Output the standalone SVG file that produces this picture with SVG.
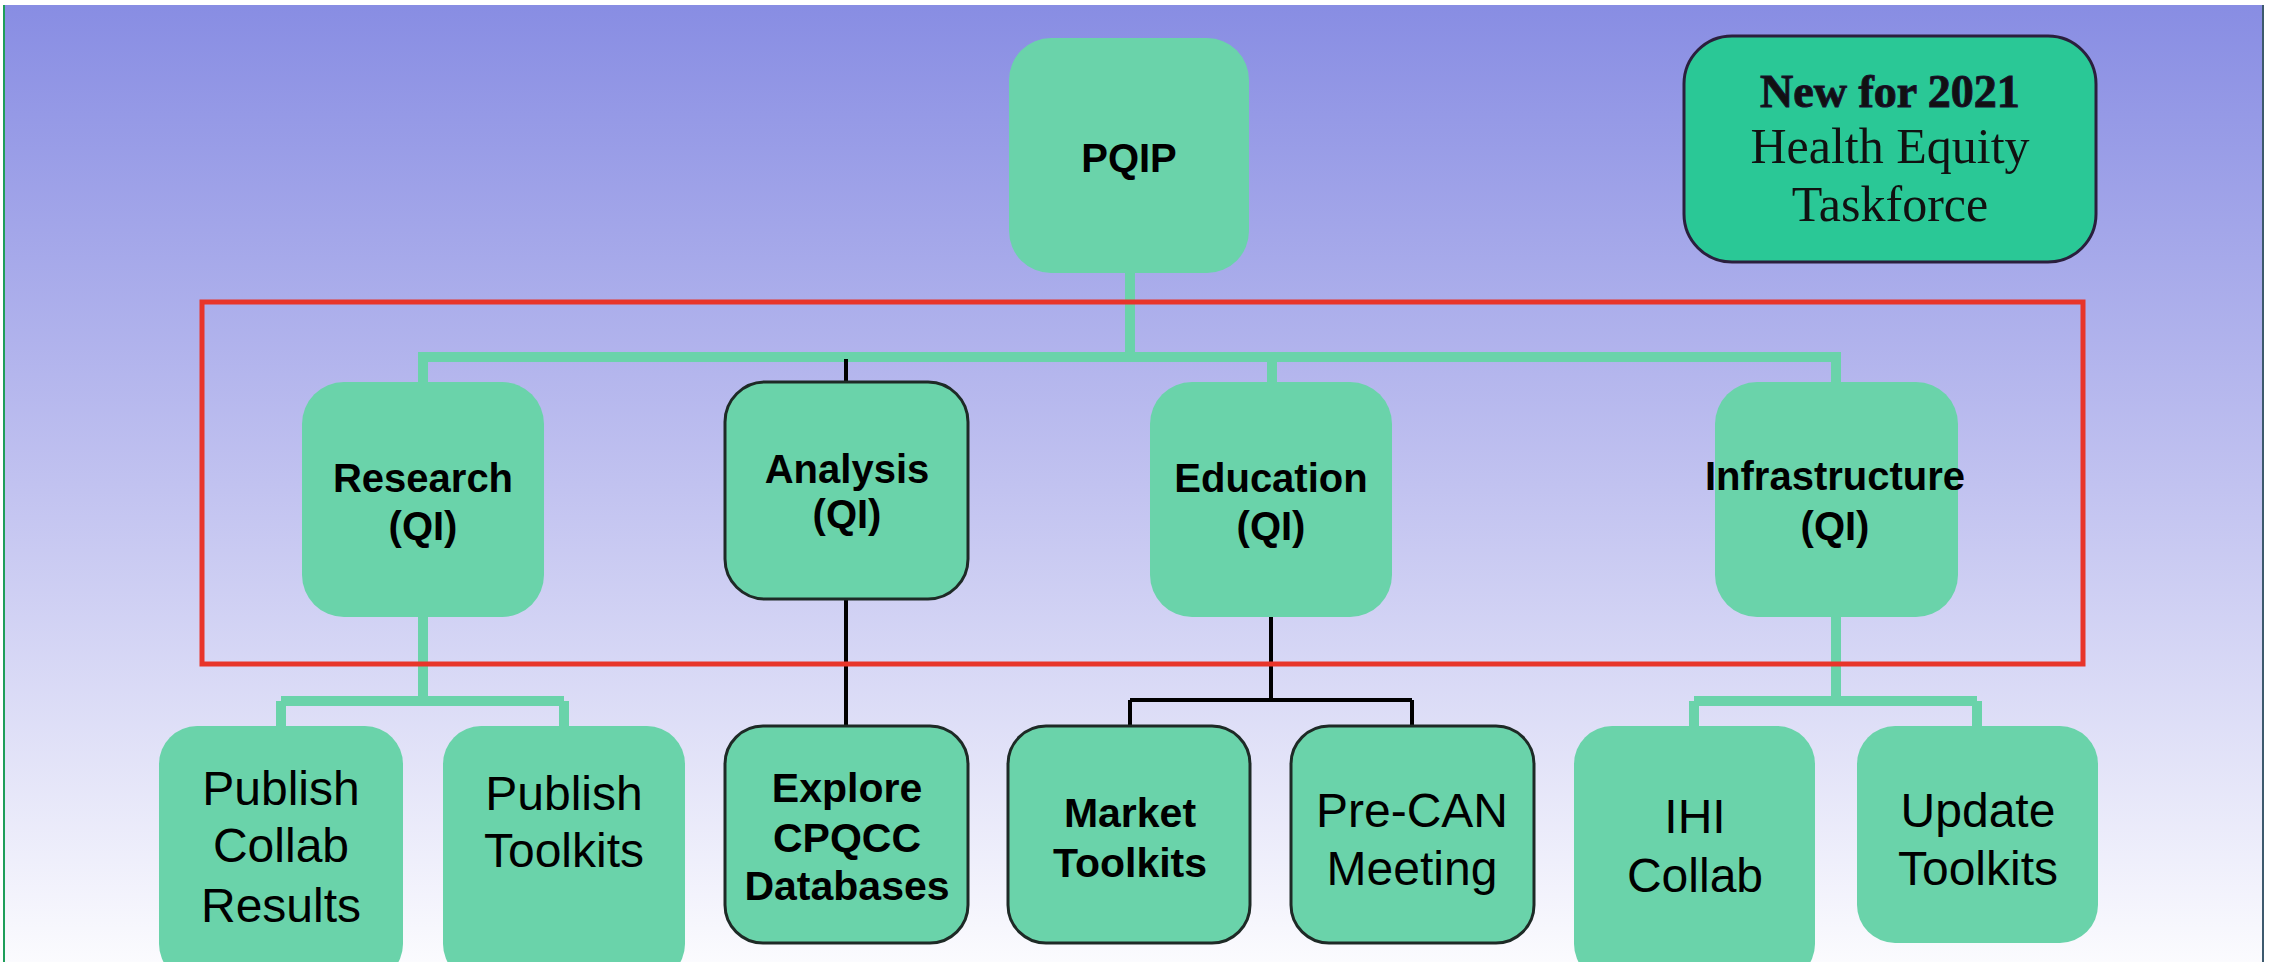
<svg xmlns="http://www.w3.org/2000/svg" width="2274" height="962" viewBox="0 0 2274 962">
<defs>
<linearGradient id="bg" x1="0" y1="0" x2="0" y2="1">
<stop offset="0" stop-color="#888de3"/>
<stop offset="0.5" stop-color="#c1c2f0"/>
<stop offset="1" stop-color="#fbfbfe"/>
</linearGradient>
<style>
.box{fill:#6ad3aa}
.boxk{fill:#6ad3aa;stroke:#1e2a26;stroke-width:3}
.g{stroke:#6ad3aa;stroke-width:10;fill:none}
.k{stroke:#000;stroke-width:4;fill:none}
.tb{font-family:"Liberation Sans",Arial,sans-serif;font-weight:bold;font-size:40px;fill:#000;text-anchor:middle}
.tb3{font-family:"Liberation Sans",Arial,sans-serif;font-weight:bold;font-size:41px;fill:#000;text-anchor:middle}
.tr{font-family:"Liberation Sans",Arial,sans-serif;font-size:48px;fill:#000;text-anchor:middle}
.ts{font-family:"Liberation Serif","Times New Roman",serif;text-anchor:middle;fill:#111}
</style>
</defs>
<rect x="0" y="0" width="2274" height="962" fill="#ffffff"/>
<rect x="4" y="5" width="2258" height="957" fill="url(#bg)"/>
<line x1="4" y1="5" x2="4" y2="962" stroke="#1e9e5a" stroke-width="2"/>
<line x1="2263" y1="5" x2="2263" y2="962" stroke="#3d5a6e" stroke-width="2"/>

<g id="connectors">
<path class="g" d="M1130 273 V357 M418 357 H1841 M423 357 V382 M1272 357 V382 M1836 357 V382"/>
<path class="k" d="M846 359 V382"/>
<path class="g" d="M423 617 V701 M281 701 H564 M281 701 V726 M564 701 V726"/>
<path class="k" d="M846 599 V726"/>
<path class="k" d="M1271 617 V700 M1130 700 H1412 M1130 700 V726 M1412 700 V726"/>
<path class="g" d="M1836 617 V701 M1694 701 H1977 M1694 701 V726 M1977 701 V726"/>
</g>

<g id="pqip">
<rect class="box" x="1009" y="38" width="240" height="235" rx="42"/>
<text class="tb" x="1129" y="172">PQIP</text>
</g>

<g id="research">
<rect class="box" x="302" y="382" width="242" height="235" rx="42"/>
<text class="tb" x="423" y="492">Research</text>
<text class="tb" x="423" y="540">(QI)</text>
</g>

<g id="analysis">
<rect class="boxk" x="725" y="382" width="243" height="217" rx="40"/>
<text class="tb" x="847" y="483">Analysis</text>
<text class="tb" x="847" y="528">(QI)</text>
</g>

<g id="education">
<rect class="box" x="1150" y="382" width="242" height="235" rx="42"/>
<text class="tb" x="1271" y="492">Education</text>
<text class="tb" x="1271" y="540">(QI)</text>
</g>

<g id="infrastructure">
<rect class="box" x="1715" y="382" width="243" height="235" rx="42"/>
<text class="tb" x="1835" y="490">Infrastructure</text>
<text class="tb" x="1835" y="540">(QI)</text>
</g>

<g id="publish-collab">
<rect class="box" x="159" y="726" width="244" height="256" rx="38"/>
<text class="tr" x="281" y="805">Publish</text>
<text class="tr" x="281" y="862">Collab</text>
<text class="tr" x="281" y="922">Results</text>
</g>

<g id="publish-toolkits">
<rect class="box" x="443" y="726" width="242" height="256" rx="38"/>
<text class="tr" x="564" y="810">Publish</text>
<text class="tr" x="564" y="867">Toolkits</text>
</g>

<g id="explore">
<rect class="boxk" x="725" y="726" width="243" height="217" rx="38"/>
<text class="tb3" x="847" y="802">Explore</text>
<text class="tb3" x="847" y="852">CPQCC</text>
<text class="tb3" x="847" y="900">Databases</text>
</g>

<g id="market">
<rect class="boxk" x="1008" y="726" width="242" height="217" rx="38"/>
<text class="tb3" x="1130" y="827">Market</text>
<text class="tb3" x="1130" y="877">Toolkits</text>
</g>

<g id="precan">
<rect class="boxk" x="1291" y="726" width="243" height="217" rx="38"/>
<text class="tr" x="1412" y="827">Pre-CAN</text>
<text class="tr" x="1412" y="885">Meeting</text>
</g>

<g id="ihi">
<rect class="box" x="1574" y="726" width="241" height="256" rx="38"/>
<text class="tr" x="1695" y="833">IHI</text>
<text class="tr" x="1695" y="892">Collab</text>
</g>

<g id="update">
<rect class="box" x="1857" y="726" width="241" height="217" rx="38"/>
<text class="tr" x="1978" y="827">Update</text>
<text class="tr" x="1978" y="885">Toolkits</text>
</g>

<g id="qi-frame">
<rect x="202" y="302" width="1881" height="362" fill="none" stroke="#e8352a" stroke-width="5"/>
</g>

<g id="health-equity">
<rect x="1684" y="36" width="412" height="226" rx="48" fill="#2ac896" stroke="#2a1f3d" stroke-width="3"/>
<text class="ts" x="1890" y="107" font-size="46" font-weight="bold" fill="#3b2a55" stroke="#1a1030" stroke-width="1">New for 2021</text>
<text class="ts" x="1890" y="163" font-size="50">Health Equity</text>
<text class="ts" x="1890" y="221" font-size="50">Taskforce</text>
</g>
</svg>
